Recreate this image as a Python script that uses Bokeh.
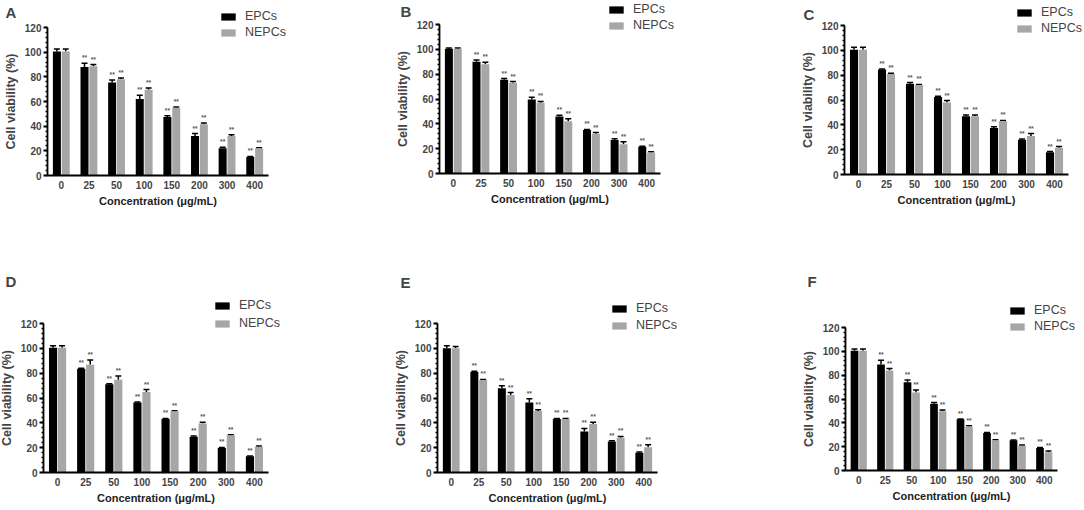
from bokeh.plotting import figure
from bokeh.models import (ColumnDataSource, Range1d, Whisker, TeeHead, FixedTicker,
                          Legend, LegendItem, Label, SingleIntervalTicker)
from bokeh.transform import dodge
from bokeh.layouts import column, row
from bokeh.core.properties import value
from bokeh.embed import file_html
from bokeh.resources import INLINE

concentrations = ["0", "25", "50", "100", "150", "200", "300", "400"]
series_names = ["EPCs", "NEPCs"]
panel_letters = ["A", "B", "C", "D", "E", "F"]
y_max = 120

a_epc = [100.5, 88, 75.5, 62, 47.5, 32, 22, 15]
a_nepc = [100.5, 88.5, 78, 69.5, 55, 41.5, 32, 22]
a_epc_err = [2, 3, 2, 3, 1, 2, 1, 0.5]
a_nepc_err = [2, 1.5, 1, 1.5, 0.5, 1, 1, 0.5]

b_epc = [100.5, 90, 75.5, 59.5, 46, 35, 27, 21.5]
b_nepc = [100.5, 88, 73, 57, 42, 32, 23.5, 17]
b_epc_err = [0.5, 1.5, 1, 2, 1, 0.5, 1, 0.5]
b_nepc_err = [0.5, 1.5, 1, 1, 2, 1, 2, 0.5]

c_epc = [100.5, 84.5, 73, 62.5, 47, 37.5, 28, 18]
c_nepc = [100.5, 81, 72, 58, 47, 43, 31, 21.5]
c_epc_err = [2, 0.5, 1, 0.5, 1, 1, 0.5, 0.5]
c_nepc_err = [2, 0.5, 0.5, 1.5, 1, 0.5, 2, 1]

d_epc = [100.5, 83.5, 71, 56.3, 43, 28.8, 19.7, 13]
d_nepc = [100.5, 86.7, 74.7, 64.8, 49.3, 39.5, 29.9, 20.8]
d_epc_err = [1.5, 0.5, 0.5, 0.5, 0.5, 0.5, 0.5, 0.3]
d_nepc_err = [1.5, 4, 3, 2, 0.5, 1, 0.5, 0.5]

e_epc = [100, 81, 67.8, 56.3, 43, 33, 25, 16]
e_nepc = [100, 74.5, 62.4, 49.6, 43, 39, 28, 20.4]
e_epc_err = [2, 0.5, 2, 3, 0.5, 2.5, 0.5, 0.5]
e_nepc_err = [1.5, 0.5, 2, 1, 0.5, 1.5, 1, 2]

f_epc = [100.5, 89, 74, 56, 43, 31.4, 25.3, 18.9]
f_nepc = [100.5, 84, 65.5, 49.7, 37, 25.3, 20.8, 15.3]
f_epc_err = [1.5, 3.5, 2, 1, 0.3, 0.5, 0.3, 0.5]
f_nepc_err = [1.5, 1.5, 2, 1, 0.5, 0.5, 0.5, 1]

significance = ["", "**", "**", "**", "**", "**", "**", "**"]

panel_data = [
    (a_epc, a_nepc, a_epc_err, a_nepc_err),
    (b_epc, b_nepc, b_epc_err, b_nepc_err),
    (c_epc, c_nepc, c_epc_err, c_nepc_err),
    (d_epc, d_nepc, d_epc_err, d_nepc_err),
    (e_epc, e_nepc, e_epc_err, e_nepc_err),
    (f_epc, f_nepc, f_epc_err, f_nepc_err),
]

# pixel layout of each panel, page coordinates:
# (origin_x, origin_y, width, height, axis_left, axis_right, axis_top, axis_bottom,
#  letter_x, letter_y, legend_x, legend_y, legend_spacing)   (legend/letter: canvas px)
layouts = [
    (0, 0, 360, 254, 47, 268, 27, 175, 5, 251, 219, 215, 2),
    (360, 0, 360, 254, 439, 660, 24, 173, 40, 252, 247, 222, 2),
    (720, 0, 362, 254, 844, 1068, 25, 174, 83, 249, 295, 219, 2),
    (0, 254, 360, 254, 43, 268, 323, 472, 5, 236, 213, 178, 4),
    (360, 254, 360, 254, 437, 657, 323, 472, 40, 235, 250, 176, 3),
    (720, 254, 362, 254, 845, 1057, 327, 470, 87, 236, 288, 175, 2),
]

FONT = "Liberation Sans"
EPC_COLOR = "#000000"
NEPC_COLOR = "#a6a6a6"
OFF = 0.16
BW = 0.29


def make_panel(letter, data, lay):
    epc, nepc, epc_err, nepc_err = data
    ox, oy, w, h, L, R, T, B, lx, ly, gx, gy, gsp = lay
    n = len(concentrations)
    kx = (R - L) / n              # px per category
    ky = (B - T) / y_max          # px per percent
    x0, x1 = -0.5, n - 0.5
    xr = Range1d(x0 - (L - ox) / kx, x1 + (ox + w - R) / kx)
    yr = Range1d(-(oy + h - B) / ky, y_max + (T - oy) / ky)

    src = ColumnDataSource(dict(
        xi=list(range(n)),
        epc=epc, nepc=nepc,
        epc_up=[v + e for v, e in zip(epc, epc_err)],
        nepc_up=[v + e for v, e in zip(nepc, nepc_err)],
        sig=significance,
    ))
    p = figure(width=w, height=h, x_range=xr, y_range=yr, output_backend="svg",
               toolbar_location=None, min_border=0)
    p.outline_line_color = None
    p.grid.visible = False
    p.background_fill_color = "white"
    p.border_fill_color = "white"

    r1 = p.vbar(x=dodge("xi", -OFF), top="epc", width=BW, source=src,
                fill_color=EPC_COLOR, line_color=None)
    r2 = p.vbar(x=dodge("xi", OFF), top="nepc", width=BW, source=src,
                fill_color=NEPC_COLOR, line_color=None)

    for off, lo, up in ((-OFF, "epc", "epc_up"), (OFF, "nepc", "nepc_up")):
        wk = Whisker(source=src, base=dodge("xi", off), lower=lo, upper=up,
                     lower_head=None,
                     upper_head=TeeHead(size=6, line_width=1.5, line_color="black"),
                     line_width=1.5, line_color="black")
        p.add_layout(wk)
        p.text(x=dodge("xi", off), y=up, text="sig", source=src,
               text_font=value(FONT), text_font_size="6.5px", text_color="#555555",
               text_align="center", text_baseline="bottom", y_offset=-2,
               text_font_style="bold")

    yax = p.yaxis[0]
    yax.fixed_location = x0
    yax.bounds = (0, y_max)
    yax.ticker = SingleIntervalTicker(interval=20, num_minor_ticks=5)
    yax.axis_label = "Cell viability (%)"
    yax.axis_label_text_font = FONT
    yax.axis_label_text_font_style = "bold"
    yax.axis_label_text_font_size = "12.5px"
    yax.axis_label_standoff = 4
    yax.major_label_text_font = FONT
    yax.major_label_text_font_style = "bold"
    yax.major_label_text_font_size = "10px"
    yax.major_label_standoff = 2
    yax.axis_line_width = 1.8
    yax.major_tick_line_width = 1.8
    yax.major_tick_out = 4
    yax.major_tick_in = 0
    yax.minor_tick_out = 2
    yax.minor_tick_in = 0
    yax.minor_tick_line_width = 1.5

    xax = p.xaxis[0]
    xax.fixed_location = 0
    xax.bounds = (x0, x1)
    xax.ticker = FixedTicker(ticks=list(range(n)), minor_ticks=[])
    xax.major_label_overrides = {i: c for i, c in enumerate(concentrations)}
    xax.axis_label = "Concentration (μg/mL)"
    xax.axis_label_text_font = FONT
    xax.axis_label_text_font_style = "bold"
    xax.axis_label_text_font_size = "11px"
    xax.axis_label_text_color = "#222222"
    xax.axis_label_standoff = 3
    xax.major_label_text_font = FONT
    xax.major_label_text_font_style = "bold"
    xax.major_label_text_font_size = "10px"
    xax.major_label_standoff = 5
    xax.axis_line_width = 1.8
    xax.major_tick_out = 0
    xax.major_tick_in = 0
    xax.major_tick_line_color = None
    xax.minor_tick_line_color = None

    legend = Legend(items=[LegendItem(label=series_names[0], renderers=[r1]),
                           LegendItem(label=series_names[1], renderers=[r2])],
                    location=(gx, gy), padding=0, margin=0, spacing=gsp,
                    glyph_width=18, glyph_height=9, label_height=14,
                    label_standoff=8, label_text_font=FONT,
                    label_text_font_size="12.5px", border_line_color=None,
                    background_fill_alpha=0)
    p.add_layout(legend)

    p.add_layout(Label(x=lx, y=ly, x_units="screen", y_units="screen", text=letter,
                       text_font=FONT, text_font_style="bold", text_font_size="15px",
                       text_baseline="top", text_align="left"))
    return p


panels = [make_panel(l, d, lay) for l, d, lay in zip(panel_letters, panel_data, layouts)]
page = column(row(*panels[:3]), row(*panels[3:]))

open("out.html", "w").write(file_html(page, INLINE))
